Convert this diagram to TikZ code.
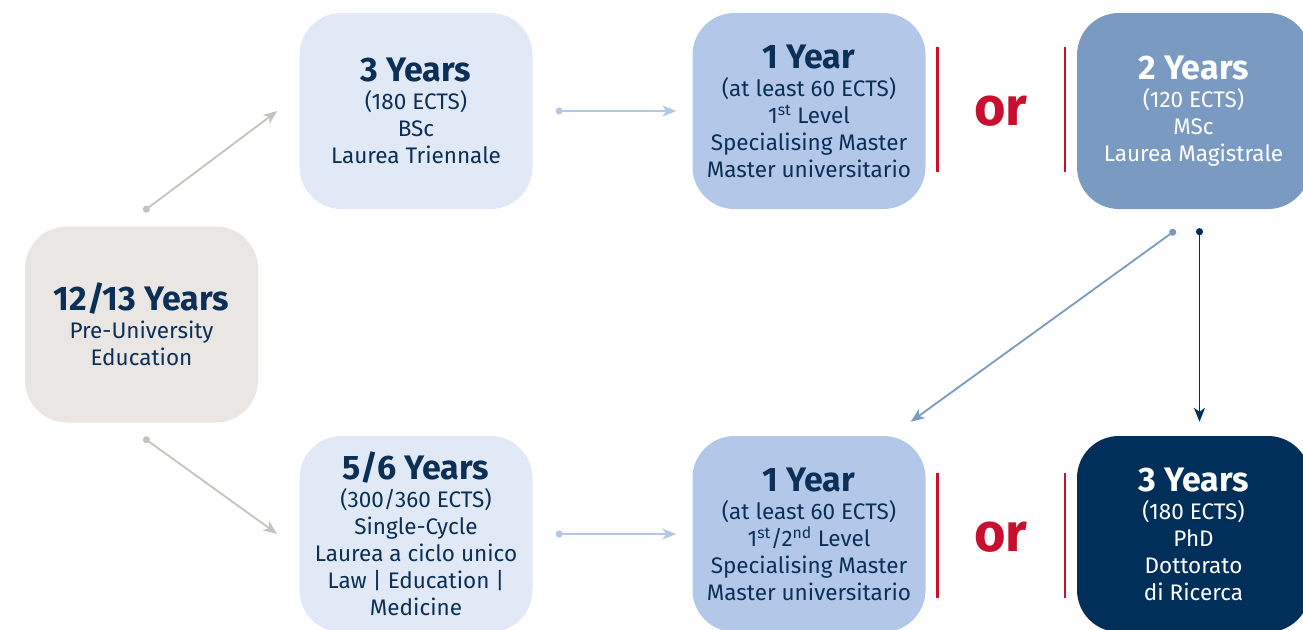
\documentclass[tikz,border=0pt]{standalone}
\usepackage{fontspec}
\setmainfont{Fira Sans}
\usetikzlibrary{arrows.meta}
\definecolor{navy}{HTML}{0B2F57}
\definecolor{phdnavy}{HTML}{00305A}
\definecolor{sand}{HTML}{EAE6E3}
\definecolor{sandarrow}{HTML}{C7C2BA}
\definecolor{paleblue}{HTML}{E1E9F6}
\definecolor{midblue}{HTML}{B3C8E9}
\definecolor{steelblue}{HTML}{7A9AC1}
\definecolor{orred}{HTML}{C8102E}
\newcommand{\yearfont}{\fontsize{34}{34}\selectfont\bfseries}
\tikzstyle{stagebox} = [rectangle, rounded corners=42pt, minimum width=233pt, minimum height=196pt, inner sep=0pt, align=center, text=navy, font=\fontsize{22.5}{27}\selectfont]
\tikzstyle{flowarrow} = [line width=1.8pt, {Circle[length=7pt]}-{Stealth[length=14pt,width=11pt,inset=4pt]}]
\tikzstyle{redbar} = [draw=orred, line width=2.5pt]
\tikzstyle{ortext} = [text=orred, font=\fontsize{54}{54}\selectfont\bfseries]

\begin{document}
\begin{tikzpicture}[x=1pt,y=-1pt]
\useasboundingbox (0,0) rectangle (1303,629);
\clip (0,0) rectangle (1303,629);
% boxes
\node[stagebox, fill=sand] (pre) at (141.5,324.5) {{\yearfont 12/13 Years}\\[1pt] Pre-University\\ Education};
\node[stagebox, fill=paleblue] (bsc) at (416,111) {{\yearfont 3 Years}\\[1pt] (180 ECTS)\\ BSc\\ Laurea Triennale};
\node[stagebox, fill=midblue] (ms1) at (809,111) {{\yearfont 1 Year}\\[1pt] (at least 60 ECTS)\\ 1\textsuperscript{st} Level\\ Specialising Master\\ Master universitario};
\node[stagebox, fill=steelblue, text=white] (msc) at (1193.5,111) {{\yearfont 2 Years}\\[1pt] (120 ECTS)\\ MSc\\ Laurea Magistrale};
\node[stagebox, fill=paleblue] (cyc) at (416,534) {{\yearfont 5/6 Years}\\[1pt] (300/360 ECTS)\\ Single-Cycle\\ Laurea a ciclo unico\\ Law | Education |\\ Medicine};
\node[stagebox, fill=midblue] (ms2) at (809,534) {{\yearfont 1 Year}\\[1pt] (at least 60 ECTS)\\ 1\textsuperscript{st}/2\textsuperscript{nd} Level\\ Specialising Master\\ Master universitario};
\node[stagebox, fill=phdnavy, text=white] (phd) at (1193.5,534) {{\yearfont 3 Years}\\[1pt] (180 ECTS)\\ PhD\\ Dottorato\\ di Ricerca};
% or
\node[ortext] (or1) at (1001,111) {or};
\node[ortext] (or2) at (1001,537) {or};
\draw[redbar] ([xshift=12pt,yshift=-34pt]ms1.north east) -- ([xshift=12pt,yshift=37pt]ms1.south east);
\draw[redbar] ([xshift=-12pt,yshift=-34pt]msc.north west) -- ([xshift=-12pt,yshift=37pt]msc.south west);
\draw[redbar] ([xshift=12pt,yshift=-37pt]ms2.north east) -- ([xshift=12pt,yshift=34pt]ms2.south east);
\draw[redbar] ([xshift=-12pt,yshift=-37pt]phd.north west) -- ([xshift=-12pt,yshift=34pt]phd.south west);
% arrows
\draw[flowarrow, draw=sandarrow, fill=sandarrow] ([xshift=2pt,yshift=15pt]pre.north) -- ([xshift=-22pt]bsc.west);
\draw[flowarrow, draw=sandarrow, fill=sandarrow] ([xshift=2pt,yshift=-15pt]pre.south) -- ([xshift=-22pt]cyc.west);
\draw[flowarrow, draw=midblue, fill=midblue] ([xshift=23pt]bsc.east) -- ([xshift=-16pt]ms1.west);
\draw[flowarrow, draw=midblue, fill=midblue] ([xshift=23pt]cyc.east) -- ([xshift=-16pt]ms2.west);
\draw[flowarrow, draw=steelblue, fill=steelblue] ([xshift=-18pt,yshift=-21pt]msc.south) -- ([xshift=-15pt,yshift=14pt]ms2.north east);
\draw[flowarrow, draw=phdnavy, fill=phdnavy] ([xshift=6pt,yshift=-19pt]msc.south) -- ([xshift=6pt,yshift=14pt]phd.north);
\end{tikzpicture}
\end{document}
